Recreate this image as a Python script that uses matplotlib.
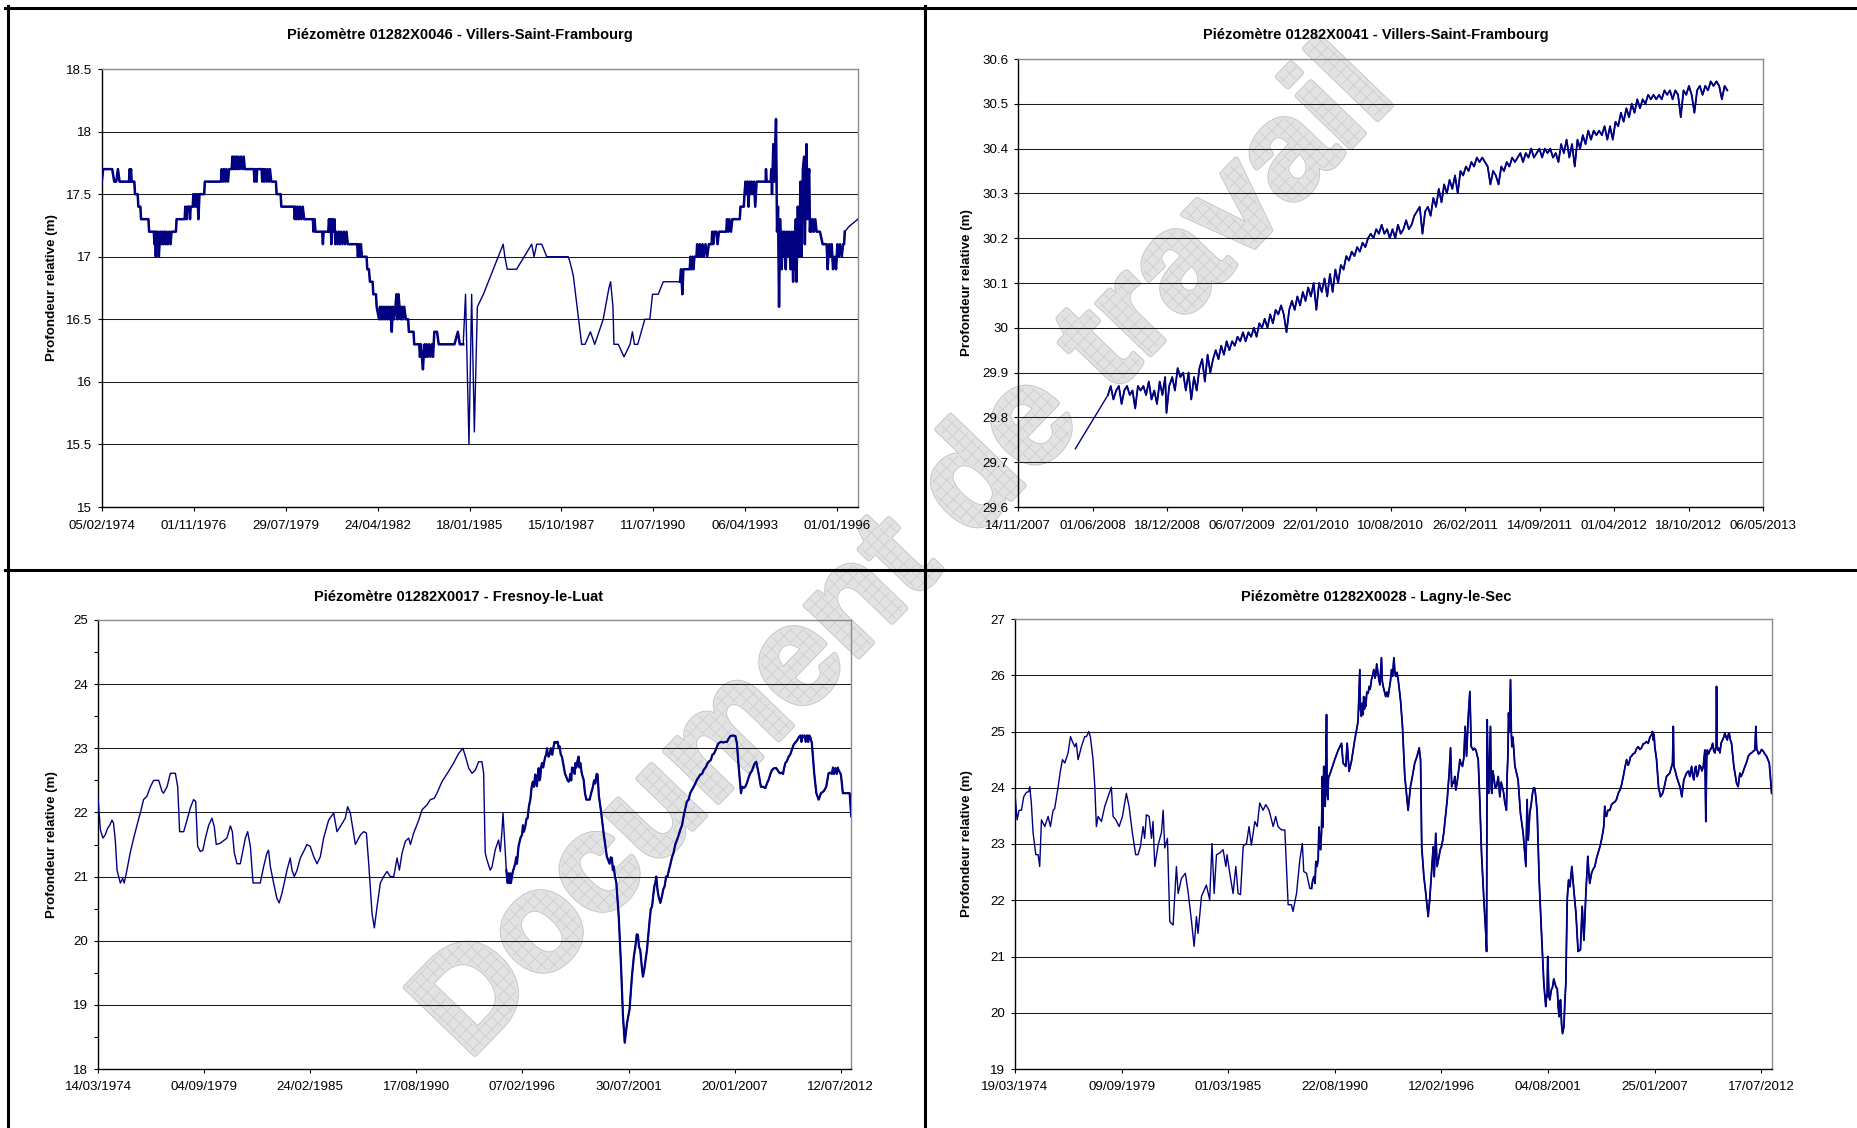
import matplotlib
matplotlib.use('Agg')
import matplotlib.pyplot as plt
import matplotlib.dates as mdates
import numpy as np
from datetime import datetime, timedelta
from matplotlib.lines import Line2D
from matplotlib.patches import PathPatch
from matplotlib.collections import LineCollection
from matplotlib.textpath import TextPath
from matplotlib.font_manager import FontProperties
from matplotlib.transforms import Affine2D, IdentityTransform
from matplotlib.ticker import MultipleLocator, FuncFormatter

plt.rcParams['font.family'] = ['Liberation Sans', 'DejaVu Sans']

# ---- piezometer readings: (decimal year, relative depth in m) ----
tl_points = [
    (1974.09, 17.6), (1974.13, 17.7), (1974.40, 17.7), (1974.46, 17.6), (1974.52, 17.6), (1974.57, 17.7),
    (1974.62, 17.6), (1974.90, 17.6), (1974.92, 17.7), (1974.94, 17.6), (1974.96, 17.7), (1974.98, 17.6),
    (1975.06, 17.6), (1975.08, 17.5), (1975.16, 17.5), (1975.18, 17.4), (1975.24, 17.4), (1975.26, 17.3),
    (1975.48, 17.3), (1975.50, 17.2), (1975.64, 17.2), (1975.66, 17.1), (1975.68, 17.2), (1975.70, 17.0),
    (1975.72, 17.2), (1975.75, 17.1), (1975.77, 17.2), (1975.79, 17.0), (1975.81, 17.1), (1975.84, 17.2),
    (1975.87, 17.1), (1975.90, 17.2), (1975.93, 17.1), (1975.96, 17.2), (1975.99, 17.1), (1976.02, 17.2),
    (1976.06, 17.1), (1976.10, 17.2), (1976.14, 17.1), (1976.17, 17.2), (1976.30, 17.2), (1976.32, 17.3),
    (1976.56, 17.3), (1976.58, 17.4), (1976.62, 17.3), (1976.64, 17.4), (1976.70, 17.4), (1976.72, 17.3),
    (1976.74, 17.4), (1976.80, 17.4), (1976.82, 17.5), (1976.85, 17.4), (1976.88, 17.5), (1976.91, 17.4),
    (1976.94, 17.5), (1976.97, 17.3), (1977.00, 17.5), (1977.14, 17.5), (1977.16, 17.6), (1977.64, 17.6),
    (1977.66, 17.7), (1977.70, 17.6), (1977.73, 17.7), (1977.77, 17.6), (1977.80, 17.7), (1977.85, 17.6),
    (1977.88, 17.7), (1977.96, 17.7), (1977.98, 17.8), (1978.01, 17.7), (1978.04, 17.8), (1978.07, 17.7),
    (1978.10, 17.8), (1978.13, 17.7), (1978.16, 17.8), (1978.20, 17.7), (1978.24, 17.8), (1978.28, 17.7),
    (1978.32, 17.8), (1978.35, 17.7), (1978.62, 17.7), (1978.64, 17.6), (1978.66, 17.7), (1978.70, 17.6),
    (1978.72, 17.7), (1978.85, 17.7), (1978.87, 17.6), (1978.90, 17.7), (1978.93, 17.6), (1978.96, 17.7),
    (1979.00, 17.6), (1979.03, 17.7), (1979.07, 17.6), (1979.10, 17.7), (1979.14, 17.6), (1979.28, 17.6),
    (1979.30, 17.5), (1979.42, 17.5), (1979.44, 17.4), (1979.82, 17.4), (1979.84, 17.3), (1979.87, 17.4),
    (1979.90, 17.3), (1979.93, 17.4), (1979.97, 17.3), (1980.00, 17.4), (1980.04, 17.3), (1980.08, 17.4),
    (1980.12, 17.3), (1980.38, 17.3), (1980.40, 17.2), (1980.43, 17.3), (1980.46, 17.2), (1980.66, 17.2),
    (1980.68, 17.1), (1980.70, 17.2), (1980.84, 17.2), (1980.86, 17.3), (1980.88, 17.2), (1980.91, 17.3),
    (1980.93, 17.1), (1980.96, 17.3), (1980.99, 17.2), (1981.02, 17.3), (1981.05, 17.1), (1981.08, 17.2),
    (1981.12, 17.1), (1981.15, 17.2), (1981.18, 17.1), (1981.22, 17.2), (1981.26, 17.1), (1981.30, 17.2),
    (1981.34, 17.1), (1981.38, 17.2), (1981.42, 17.1), (1981.70, 17.1), (1981.72, 17.0), (1981.75, 17.1),
    (1981.78, 17.0), (1981.81, 17.1), (1981.84, 17.0), (1981.98, 17.0), (1982.00, 16.9), (1982.05, 16.9),
    (1982.08, 16.8), (1982.16, 16.8), (1982.18, 16.7), (1982.26, 16.7), (1982.28, 16.6), (1982.35, 16.5),
    (1982.38, 16.6), (1982.41, 16.5), (1982.44, 16.6), (1982.47, 16.5), (1982.50, 16.6), (1982.53, 16.5),
    (1982.56, 16.6), (1982.60, 16.5), (1982.63, 16.6), (1982.66, 16.5), (1982.70, 16.6), (1982.73, 16.4),
    (1982.76, 16.6), (1982.80, 16.5), (1982.84, 16.6), (1982.87, 16.7), (1982.90, 16.5), (1982.93, 16.7),
    (1982.96, 16.6), (1983.00, 16.5), (1983.03, 16.6), (1983.06, 16.5), (1983.10, 16.6), (1983.15, 16.5),
    (1983.22, 16.5), (1983.24, 16.4), (1983.38, 16.4), (1983.40, 16.3), (1983.55, 16.3), (1983.57, 16.2),
    (1983.60, 16.3), (1983.63, 16.2), (1983.66, 16.1), (1983.68, 16.2), (1983.71, 16.3), (1983.74, 16.2),
    (1983.77, 16.3), (1983.80, 16.2), (1983.84, 16.3), (1983.88, 16.2), (1983.92, 16.3), (1983.96, 16.2),
    (1984.00, 16.4), (1984.08, 16.4), (1984.13, 16.3), (1984.60, 16.3), (1984.70, 16.4), (1984.76, 16.3),
    (1984.86, 16.3), (1984.93, 16.7), (1985.03, 15.5), (1985.11, 16.7), (1985.19, 15.6), (1985.28, 16.6),
    (1985.46, 16.7), (1986.05, 17.1), (1986.10, 17.0), (1986.17, 16.9), (1986.45, 16.9), (1986.90, 17.1),
    (1986.97, 17.0), (1987.05, 17.1), (1987.20, 17.1), (1987.35, 17.0), (1987.99, 17.0), (1988.05, 16.95),
    (1988.14, 16.85), (1988.39, 16.3), (1988.49, 16.3), (1988.65, 16.4), (1988.78, 16.3), (1989.03, 16.5),
    (1989.20, 16.75), (1989.25, 16.8), (1989.32, 16.6), (1989.35, 16.3), (1989.48, 16.3), (1989.65, 16.2),
    (1989.83, 16.3), (1989.90, 16.4), (1989.96, 16.3), (1990.06, 16.3), (1990.27, 16.5), (1990.42, 16.5),
    (1990.50, 16.7), (1990.67, 16.7), (1990.82, 16.8), (1991.32, 16.8), (1991.35, 16.9), (1991.39, 16.7),
    (1991.42, 16.9), (1991.61, 16.9), (1991.63, 17.0), (1991.66, 16.9), (1991.69, 17.0), (1991.72, 16.9),
    (1991.75, 17.0), (1991.81, 17.0), (1991.83, 17.1), (1991.87, 17.0), (1991.91, 17.1), (1991.95, 17.0),
    (1991.99, 17.1), (1992.03, 17.0), (1992.08, 17.1), (1992.13, 17.0), (1992.18, 17.1), (1992.26, 17.1),
    (1992.28, 17.2), (1992.31, 17.1), (1992.34, 17.2), (1992.40, 17.2), (1992.44, 17.1), (1992.48, 17.2),
    (1992.70, 17.2), (1992.72, 17.3), (1992.76, 17.2), (1992.79, 17.3), (1992.84, 17.2), (1992.88, 17.3),
    (1993.10, 17.3), (1993.12, 17.4), (1993.22, 17.4), (1993.24, 17.5), (1993.27, 17.6), (1993.30, 17.5),
    (1993.33, 17.6), (1993.36, 17.4), (1993.39, 17.6), (1993.42, 17.5), (1993.45, 17.6), (1993.48, 17.5),
    (1993.52, 17.6), (1993.56, 17.4), (1993.60, 17.6), (1993.87, 17.6), (1993.88, 17.7), (1993.90, 17.6),
    (1994.02, 17.6), (1994.04, 17.7), (1994.06, 17.5), (1994.10, 17.9), (1994.13, 17.6), (1994.18, 18.1),
    (1994.21, 17.2), (1994.24, 17.4), (1994.27, 16.6), (1994.30, 17.3), (1994.35, 16.9), (1994.38, 17.2),
    (1994.40, 17.0), (1994.43, 17.2), (1994.47, 16.9), (1994.50, 17.2), (1994.54, 17.0), (1994.57, 17.2),
    (1994.61, 16.9), (1994.65, 17.2), (1994.69, 16.8), (1994.72, 17.2), (1994.74, 16.9), (1994.77, 17.3),
    (1994.79, 16.8), (1994.83, 17.4), (1994.87, 17.0), (1994.91, 17.6), (1994.94, 17.0), (1994.98, 17.7),
    (1995.02, 17.8), (1995.04, 17.1), (1995.07, 17.6), (1995.09, 17.9), (1995.12, 17.3), (1995.14, 17.6),
    (1995.17, 17.7), (1995.19, 17.2), (1995.21, 17.3), (1995.24, 17.2), (1995.27, 17.3), (1995.31, 17.2),
    (1995.35, 17.3), (1995.39, 17.2), (1995.49, 17.2), (1995.57, 17.1), (1995.69, 17.1), (1995.72, 16.9),
    (1995.74, 17.0), (1995.77, 17.1), (1995.80, 17.0), (1995.84, 17.1), (1995.88, 16.9), (1995.93, 17.0),
    (1995.97, 16.9), (1996.01, 17.1), (1996.05, 17.0), (1996.09, 17.1), (1996.14, 17.0), (1996.18, 17.1),
    (1996.21, 17.1), (1996.23, 17.2), (1996.35, 17.24), (1996.62, 17.3),
]

tr_points = [
    (2008.29, 29.73), (2008.53, 29.85), (2008.55, 29.87), (2008.57, 29.84), (2008.59, 29.86), (2008.61, 29.87),
    (2008.63, 29.83), (2008.65, 29.86), (2008.67, 29.87), (2008.69, 29.85), (2008.71, 29.86), (2008.73, 29.82),
    (2008.75, 29.87), (2008.77, 29.86), (2008.79, 29.87), (2008.81, 29.85), (2008.83, 29.88), (2008.85, 29.84),
    (2008.87, 29.86), (2008.89, 29.83), (2008.91, 29.88), (2008.93, 29.85), (2008.95, 29.89), (2008.96, 29.81),
    (2008.98, 29.87), (2009.00, 29.89), (2009.02, 29.86), (2009.04, 29.91), (2009.06, 29.89), (2009.08, 29.90),
    (2009.10, 29.86), (2009.12, 29.90), (2009.14, 29.84), (2009.16, 29.89), (2009.18, 29.86), (2009.20, 29.91),
    (2009.22, 29.93), (2009.24, 29.88), (2009.26, 29.94), (2009.28, 29.90), (2009.30, 29.93), (2009.32, 29.95),
    (2009.34, 29.93), (2009.36, 29.96), (2009.38, 29.94), (2009.40, 29.97), (2009.42, 29.95), (2009.44, 29.97),
    (2009.46, 29.96), (2009.48, 29.98), (2009.50, 29.97), (2009.52, 29.99), (2009.54, 29.97), (2009.56, 29.99),
    (2009.58, 29.98), (2009.60, 30.00), (2009.62, 29.98), (2009.64, 30.01), (2009.66, 30.00), (2009.68, 30.02),
    (2009.70, 30.00), (2009.72, 30.03), (2009.74, 30.01), (2009.76, 30.04), (2009.78, 30.03), (2009.80, 30.05),
    (2009.82, 30.03), (2009.84, 29.99), (2009.86, 30.04), (2009.88, 30.06), (2009.90, 30.04), (2009.92, 30.07),
    (2009.94, 30.05), (2009.96, 30.08), (2009.98, 30.06), (2010.00, 30.09), (2010.02, 30.07), (2010.04, 30.10),
    (2010.06, 30.04), (2010.08, 30.10), (2010.10, 30.08), (2010.12, 30.11), (2010.14, 30.07), (2010.16, 30.12),
    (2010.18, 30.08), (2010.20, 30.13), (2010.22, 30.10), (2010.24, 30.14), (2010.26, 30.13), (2010.28, 30.16),
    (2010.30, 30.15), (2010.32, 30.17), (2010.34, 30.16), (2010.36, 30.18), (2010.38, 30.17), (2010.40, 30.19),
    (2010.42, 30.18), (2010.44, 30.20), (2010.46, 30.21), (2010.48, 30.20), (2010.50, 30.22), (2010.52, 30.21),
    (2010.54, 30.23), (2010.56, 30.21), (2010.58, 30.22), (2010.60, 30.20), (2010.62, 30.22), (2010.64, 30.20),
    (2010.66, 30.23), (2010.68, 30.21), (2010.70, 30.22), (2010.72, 30.24), (2010.74, 30.22), (2010.76, 30.23),
    (2010.78, 30.25), (2010.80, 30.26), (2010.82, 30.27), (2010.84, 30.21), (2010.86, 30.26), (2010.88, 30.27),
    (2010.90, 30.25), (2010.92, 30.29), (2010.94, 30.27), (2010.96, 30.31), (2010.98, 30.28), (2011.00, 30.32),
    (2011.02, 30.30), (2011.04, 30.33), (2011.06, 30.31), (2011.08, 30.34), (2011.10, 30.30), (2011.12, 30.35),
    (2011.14, 30.34), (2011.16, 30.36), (2011.18, 30.35), (2011.20, 30.37), (2011.22, 30.36), (2011.24, 30.38),
    (2011.26, 30.37), (2011.28, 30.38), (2011.30, 30.37), (2011.32, 30.36), (2011.34, 30.32), (2011.36, 30.35),
    (2011.38, 30.34), (2011.40, 30.32), (2011.42, 30.36), (2011.44, 30.35), (2011.46, 30.37), (2011.48, 30.36),
    (2011.50, 30.38), (2011.52, 30.37), (2011.54, 30.38), (2011.56, 30.39), (2011.58, 30.37), (2011.60, 30.39),
    (2011.62, 30.38), (2011.64, 30.40), (2011.66, 30.38), (2011.68, 30.39), (2011.70, 30.40), (2011.72, 30.38),
    (2011.74, 30.40), (2011.76, 30.39), (2011.78, 30.40), (2011.80, 30.38), (2011.82, 30.39), (2011.84, 30.37),
    (2011.86, 30.41), (2011.88, 30.39), (2011.90, 30.42), (2011.92, 30.38), (2011.94, 30.41), (2011.96, 30.36),
    (2011.98, 30.42), (2012.00, 30.40), (2012.02, 30.43), (2012.04, 30.41), (2012.06, 30.44), (2012.08, 30.42),
    (2012.10, 30.44), (2012.12, 30.43), (2012.14, 30.44), (2012.16, 30.43), (2012.18, 30.45), (2012.20, 30.42),
    (2012.22, 30.45), (2012.24, 30.42), (2012.26, 30.46), (2012.28, 30.45), (2012.30, 30.48), (2012.32, 30.46),
    (2012.34, 30.49), (2012.36, 30.47), (2012.38, 30.50), (2012.40, 30.48), (2012.42, 30.51), (2012.44, 30.49),
    (2012.46, 30.51), (2012.48, 30.50), (2012.50, 30.52), (2012.52, 30.51), (2012.54, 30.52), (2012.56, 30.51),
    (2012.58, 30.52), (2012.60, 30.51), (2012.62, 30.53), (2012.64, 30.52), (2012.66, 30.53), (2012.68, 30.51),
    (2012.70, 30.53), (2012.72, 30.52), (2012.74, 30.47), (2012.76, 30.53), (2012.78, 30.52), (2012.80, 30.54),
    (2012.82, 30.52), (2012.84, 30.48), (2012.86, 30.53), (2012.88, 30.54), (2012.90, 30.52), (2012.92, 30.54),
    (2012.94, 30.53), (2012.96, 30.55), (2012.98, 30.54), (2013.00, 30.55), (2013.02, 30.54), (2013.04, 30.51),
    (2013.06, 30.54), (2013.08, 30.53),
]

bl_points = [
    (1974.20, 22.22), (1974.32, 21.73), (1974.45, 21.6), (1974.57, 21.65), (1974.69, 21.75), (1974.80, 21.8),
    (1974.92, 21.88), (1975.00, 21.83), (1975.09, 21.57), (1975.18, 21.1), (1975.35, 20.9), (1975.47, 20.97),
    (1975.55, 20.9), (1975.69, 21.1), (1975.86, 21.37), (1976.04, 21.6), (1976.21, 21.8), (1976.38, 21.99),
    (1976.55, 22.2), (1976.72, 22.25), (1976.90, 22.4), (1977.07, 22.5), (1977.33, 22.5), (1977.50, 22.33),
    (1977.58, 22.3), (1977.76, 22.4), (1977.93, 22.61), (1978.19, 22.61), (1978.31, 22.4), (1978.41, 21.7),
    (1978.62, 21.7), (1978.79, 21.88), (1978.96, 22.07), (1979.13, 22.2), (1979.24, 22.17), (1979.34, 21.47),
    (1979.48, 21.39), (1979.61, 21.41), (1979.74, 21.6), (1979.91, 21.8), (1980.08, 21.91), (1980.20, 21.78),
    (1980.30, 21.5), (1980.51, 21.52), (1980.85, 21.6), (1981.03, 21.79), (1981.13, 21.7), (1981.23, 21.37),
    (1981.37, 21.2), (1981.54, 21.2), (1981.68, 21.42), (1981.80, 21.6), (1981.92, 21.7), (1982.06, 21.47),
    (1982.20, 20.9), (1982.57, 20.9), (1982.75, 21.16), (1982.92, 21.37), (1983.00, 21.41), (1983.09, 21.16),
    (1983.26, 20.9), (1983.43, 20.66), (1983.55, 20.59), (1983.69, 20.74), (1983.81, 20.9), (1983.95, 21.1),
    (1984.12, 21.29), (1984.21, 21.1), (1984.33, 21.0), (1984.47, 21.1), (1984.64, 21.29), (1984.81, 21.39),
    (1984.98, 21.5), (1985.15, 21.47), (1985.33, 21.31), (1985.50, 21.2), (1985.67, 21.31), (1985.84, 21.6),
    (1986.10, 21.88), (1986.36, 21.99), (1986.53, 21.7), (1986.70, 21.78), (1986.96, 21.91), (1987.08, 22.09),
    (1987.22, 21.99), (1987.48, 21.5), (1987.74, 21.65), (1987.91, 21.7), (1988.05, 21.68), (1988.17, 21.2),
    (1988.34, 20.43), (1988.46, 20.2), (1988.60, 20.53), (1988.77, 20.9), (1988.94, 21.0), (1989.11, 21.08),
    (1989.28, 21.0), (1989.46, 21.0), (1989.63, 21.29), (1989.75, 21.1), (1989.89, 21.37), (1990.06, 21.55),
    (1990.23, 21.6), (1990.32, 21.5), (1990.49, 21.68), (1990.75, 21.88), (1990.92, 22.04), (1991.18, 22.12),
    (1991.35, 22.2), (1991.55, 22.22), (1991.69, 22.3), (1991.95, 22.48), (1992.29, 22.64), (1992.55, 22.77),
    (1992.81, 22.92), (1993.03, 23.0), (1993.21, 22.82), (1993.33, 22.69), (1993.50, 22.61), (1993.67, 22.66),
    (1993.84, 22.79), (1994.01, 22.79), (1994.10, 22.61), (1994.18, 21.37), (1994.27, 21.26), (1994.44, 21.1),
    (1994.53, 21.15), (1994.70, 21.42), (1994.87, 21.57), (1994.96, 21.39), (1995.04, 21.68), (1995.10, 21.99),
    (1995.16, 21.68), (1995.27, 21.1), (1995.34, 20.9), (1995.39, 21.05), (1995.44, 20.9), (1995.48, 21.05),
    (1995.51, 20.9), (1995.56, 21.0), (1995.61, 21.08), (1995.73, 21.2), (1995.78, 21.3), (1995.82, 21.2),
    (1995.90, 21.47), (1996.00, 21.6), (1996.08, 21.65), (1996.13, 21.8), (1996.18, 21.7), (1996.25, 21.78),
    (1996.31, 21.9), (1996.37, 21.91), (1996.44, 22.1), (1996.51, 22.2), (1996.58, 22.4), (1996.64, 22.48),
    (1996.70, 22.4), (1996.76, 22.59), (1996.80, 22.5), (1996.85, 22.41), (1996.90, 22.6), (1996.94, 22.69),
    (1996.98, 22.5), (1997.02, 22.54), (1997.06, 22.7), (1997.11, 22.77), (1997.17, 22.7), (1997.23, 22.8),
    (1997.28, 22.87), (1997.33, 22.9), (1997.37, 23.0), (1997.41, 22.9), (1997.45, 22.87), (1997.50, 22.9),
    (1997.57, 23.0), (1997.64, 22.9), (1997.71, 23.03), (1997.76, 23.1), (1997.80, 23.08), (1997.86, 23.1),
    (1997.92, 23.1), (1997.97, 23.0), (1998.02, 23.03), (1998.08, 22.9), (1998.14, 22.87), (1998.18, 22.8),
    (1998.23, 22.72), (1998.30, 22.6), (1998.36, 22.56), (1998.43, 22.5), (1998.49, 22.48), (1998.53, 22.5),
    (1998.57, 22.6), (1998.62, 22.5), (1998.66, 22.7), (1998.74, 22.69), (1998.80, 22.6), (1998.84, 22.77),
    (1998.88, 22.7), (1998.94, 22.8), (1999.00, 22.87), (1999.05, 22.7), (1999.09, 22.77), (1999.17, 22.6),
    (1999.26, 22.51), (1999.33, 22.3), (1999.40, 22.2), (1999.57, 22.2), (1999.65, 22.3), (1999.74, 22.4),
    (1999.80, 22.5), (1999.86, 22.45), (1999.93, 22.6), (1999.98, 22.59), (2000.05, 22.25), (2000.15, 22.04),
    (2000.29, 21.68), (2000.46, 21.31), (2000.60, 21.2), (2000.66, 21.3), (2000.72, 21.29), (2000.77, 21.1),
    (2000.81, 21.16), (2000.88, 21.0), (2000.95, 20.9), (2001.07, 20.38), (2001.19, 19.6), (2001.29, 18.82),
    (2001.38, 18.41), (2001.50, 18.72), (2001.63, 18.93), (2001.75, 19.44), (2001.85, 19.75), (2001.93, 19.91),
    (2002.00, 20.1), (2002.06, 20.09), (2002.12, 19.9), (2002.18, 19.86), (2002.26, 19.6), (2002.32, 19.44),
    (2002.39, 19.55), (2002.46, 19.7), (2002.53, 19.86), (2002.60, 20.1), (2002.67, 20.33), (2002.73, 20.5),
    (2002.79, 20.53), (2002.85, 20.7), (2002.91, 20.85), (2002.96, 20.9), (2003.01, 21.0), (2003.07, 20.8),
    (2003.13, 20.69), (2003.22, 20.59), (2003.30, 20.69), (2003.37, 20.8), (2003.44, 20.85), (2003.52, 21.0),
    (2003.59, 21.0), (2003.66, 21.1), (2003.73, 21.18), (2003.82, 21.3), (2003.90, 21.37), (2003.99, 21.5),
    (2004.08, 21.57), (2004.17, 21.65), (2004.25, 21.73), (2004.34, 21.8), (2004.42, 21.94), (2004.50, 22.05),
    (2004.59, 22.17), (2004.68, 22.2), (2004.76, 22.3), (2004.85, 22.35), (2004.94, 22.4), (2005.02, 22.45),
    (2005.11, 22.51), (2005.20, 22.55), (2005.28, 22.59), (2005.37, 22.6), (2005.45, 22.66), (2005.55, 22.7),
    (2005.66, 22.77), (2005.75, 22.8), (2005.83, 22.82), (2005.90, 22.9), (2005.97, 22.91), (2006.04, 22.95),
    (2006.11, 23.0), (2006.17, 23.05), (2006.23, 23.08), (2006.35, 23.1), (2006.48, 23.09), (2006.57, 23.1),
    (2006.66, 23.1), (2006.74, 23.15), (2006.83, 23.19), (2006.96, 23.2), (2007.09, 23.19), (2007.17, 23.08),
    (2007.26, 22.72), (2007.38, 22.3), (2007.45, 22.4), (2007.52, 22.38), (2007.60, 22.4), (2007.69, 22.46),
    (2007.78, 22.55), (2007.86, 22.61), (2007.95, 22.65), (2008.03, 22.72), (2008.10, 22.77), (2008.17, 22.79),
    (2008.23, 22.7), (2008.29, 22.61), (2008.35, 22.5), (2008.41, 22.4), (2008.52, 22.4), (2008.64, 22.38),
    (2008.72, 22.45), (2008.81, 22.51), (2008.90, 22.6), (2008.98, 22.66), (2009.09, 22.69), (2009.20, 22.69),
    (2009.29, 22.65), (2009.38, 22.61), (2009.47, 22.62), (2009.55, 22.6), (2009.61, 22.7), (2009.67, 22.77),
    (2009.75, 22.8), (2009.84, 22.87), (2009.92, 22.9), (2010.01, 22.98), (2010.09, 23.05), (2010.18, 23.09),
    (2010.27, 23.12), (2010.36, 23.17), (2010.45, 23.2), (2010.50, 23.1), (2010.55, 23.2), (2010.61, 23.17),
    (2010.66, 23.2), (2010.72, 23.1), (2010.79, 23.2), (2010.85, 23.1), (2010.90, 23.2), (2010.96, 23.17),
    (2011.04, 23.08), (2011.16, 22.61), (2011.27, 22.3), (2011.39, 22.2), (2011.51, 22.3), (2011.65, 22.33),
    (2011.78, 22.4), (2011.90, 22.61), (2011.98, 22.62), (2012.07, 22.6), (2012.13, 22.7), (2012.18, 22.6),
    (2012.25, 22.69), (2012.32, 22.6), (2012.37, 22.7), (2012.42, 22.66), (2012.54, 22.59), (2012.64, 22.3),
    (2012.85, 22.3), (2012.99, 22.3), (2013.07, 21.94),
]

br_points = [
    (1974.21, 23.9), (1974.32, 23.43), (1974.42, 23.6), (1974.54, 23.6), (1974.66, 23.84), (1974.80, 23.92),
    (1974.92, 23.93), (1974.97, 24.02), (1975.05, 23.73), (1975.14, 23.2), (1975.28, 22.81), (1975.40, 22.81),
    (1975.48, 22.6), (1975.57, 23.43), (1975.74, 23.31), (1975.91, 23.49), (1976.03, 23.31), (1976.17, 23.6),
    (1976.25, 23.63), (1976.42, 24.0), (1976.54, 24.29), (1976.65, 24.5), (1976.77, 24.44), (1976.94, 24.62),
    (1977.06, 24.91), (1977.16, 24.82), (1977.28, 24.73), (1977.36, 24.79), (1977.45, 24.5), (1977.62, 24.73),
    (1977.79, 24.91), (1977.88, 24.91), (1978.00, 25.0), (1978.08, 24.91), (1978.22, 24.5), (1978.31, 24.02),
    (1978.39, 23.31), (1978.48, 23.49), (1978.65, 23.4), (1978.82, 23.67), (1978.99, 23.84), (1979.16, 24.01),
    (1979.25, 23.49), (1979.39, 23.43), (1979.56, 23.31), (1979.73, 23.49), (1979.93, 23.9), (1980.07, 23.67),
    (1980.24, 23.2), (1980.41, 22.81), (1980.53, 22.81), (1980.65, 22.95), (1980.79, 23.31), (1980.87, 23.1),
    (1980.96, 23.52), (1981.10, 23.49), (1981.22, 23.1), (1981.30, 23.4), (1981.39, 22.6), (1981.56, 22.98),
    (1981.73, 23.2), (1981.82, 23.6), (1981.90, 22.93), (1982.04, 23.1), (1982.16, 21.62), (1982.33, 21.56),
    (1982.50, 22.6), (1982.59, 22.12), (1982.76, 22.39), (1982.96, 22.48), (1983.10, 22.15), (1983.27, 21.65),
    (1983.41, 21.18), (1983.53, 21.71), (1983.61, 21.41), (1983.79, 22.07), (1984.04, 22.27), (1984.21, 22.01),
    (1984.33, 23.01), (1984.44, 22.12), (1984.56, 22.81), (1984.73, 22.84), (1984.90, 22.9), (1985.04, 22.6),
    (1985.10, 22.81), (1985.24, 22.48), (1985.41, 22.12), (1985.55, 22.6), (1985.67, 22.12), (1985.79, 22.1),
    (1985.93, 22.96), (1986.10, 23.01), (1986.23, 23.31), (1986.35, 22.98), (1986.53, 23.4), (1986.65, 23.31),
    (1986.78, 23.73), (1986.95, 23.6), (1987.09, 23.7), (1987.26, 23.6), (1987.47, 23.31), (1987.60, 23.49),
    (1987.72, 23.31), (1987.90, 23.25), (1988.07, 23.25), (1988.24, 21.92), (1988.41, 21.92), (1988.49, 21.8),
    (1988.67, 22.12), (1988.84, 22.72), (1988.97, 23.01), (1989.04, 22.51), (1989.18, 22.48), (1989.35, 22.21),
    (1989.44, 22.21), (1989.50, 22.35), (1989.56, 22.42), (1989.62, 22.3), (1989.66, 22.69), (1989.72, 22.6),
    (1989.78, 22.72), (1989.82, 23.3), (1989.86, 23.13), (1989.90, 22.9), (1989.95, 23.19), (1990.00, 24.2),
    (1990.02, 23.3), (1990.04, 23.73), (1990.07, 24.38), (1990.10, 23.8), (1990.14, 23.67), (1990.17, 24.4),
    (1990.21, 25.3), (1990.24, 23.9), (1990.28, 23.79), (1990.31, 24.2), (1990.34, 24.2), (1990.46, 24.32),
    (1990.63, 24.5), (1990.81, 24.67), (1990.98, 24.79), (1991.06, 24.44), (1991.20, 24.38), (1991.27, 24.79),
    (1991.37, 24.29), (1991.49, 24.47), (1991.66, 24.85), (1991.83, 25.18), (1991.92, 26.1), (1991.95, 25.4),
    (1992.00, 25.27), (1992.05, 25.5), (1992.09, 25.3), (1992.12, 25.62), (1992.16, 25.4), (1992.20, 25.6),
    (1992.23, 25.45), (1992.28, 25.7), (1992.35, 25.68), (1992.40, 25.8), (1992.45, 25.75), (1992.52, 25.92),
    (1992.58, 26.0), (1992.64, 26.1), (1992.70, 25.95), (1992.74, 26.01), (1992.79, 26.2), (1992.83, 26.1),
    (1992.89, 25.95), (1992.95, 25.83), (1993.03, 26.31), (1993.07, 25.9), (1993.12, 25.8), (1993.19, 25.7),
    (1993.25, 25.62), (1993.31, 25.7), (1993.37, 25.62), (1993.43, 25.75), (1993.49, 25.89), (1993.55, 26.1),
    (1993.60, 25.98), (1993.67, 26.31), (1993.72, 26.05), (1993.77, 25.98), (1993.83, 26.05), (1993.89, 25.92),
    (1994.01, 25.56), (1994.11, 25.09), (1994.23, 24.2), (1994.40, 23.6), (1994.52, 24.02), (1994.62, 24.2),
    (1994.74, 24.44), (1994.86, 24.56), (1994.97, 24.71), (1995.00, 24.6), (1995.04, 24.5), (1995.10, 22.95),
    (1995.21, 22.42), (1995.31, 22.12), (1995.43, 21.71), (1995.51, 22.01), (1995.60, 22.48), (1995.69, 22.95),
    (1995.74, 22.42), (1995.82, 23.19), (1995.89, 22.6), (1995.99, 22.78), (1996.05, 22.9), (1996.11, 22.95),
    (1996.17, 23.05), (1996.23, 23.19), (1996.34, 23.55), (1996.41, 23.79), (1996.51, 24.26), (1996.58, 24.71),
    (1996.64, 24.02), (1996.70, 24.1), (1996.75, 24.08), (1996.80, 24.2), (1996.85, 23.96), (1996.92, 24.1),
    (1996.97, 24.23), (1997.06, 24.5), (1997.12, 24.42), (1997.19, 24.38), (1997.26, 24.53), (1997.33, 25.09),
    (1997.40, 24.56), (1997.48, 25.21), (1997.57, 25.71), (1997.64, 24.73), (1997.70, 24.7), (1997.74, 24.67),
    (1997.80, 24.7), (1997.88, 24.67), (1998.00, 24.5), (1998.08, 23.79), (1998.17, 22.84), (1998.29, 22.01),
    (1998.39, 21.41), (1998.43, 21.09), (1998.46, 25.21), (1998.50, 24.2), (1998.53, 23.9), (1998.58, 24.5),
    (1998.63, 25.09), (1998.67, 24.0), (1998.70, 23.9), (1998.75, 24.3), (1998.80, 24.2), (1998.87, 24.0),
    (1998.94, 24.02), (1999.03, 24.2), (1999.11, 23.84), (1999.18, 24.1), (1999.25, 24.0), (1999.31, 23.9),
    (1999.37, 23.73), (1999.45, 23.6), (1999.49, 24.26), (1999.53, 24.6), (1999.56, 25.33), (1999.60, 25.0),
    (1999.66, 25.92), (1999.70, 25.0), (1999.73, 24.73), (1999.78, 24.9), (1999.83, 24.67), (1999.88, 24.4),
    (1999.93, 24.32), (2000.05, 24.14), (2000.17, 23.55), (2000.31, 23.19), (2000.45, 22.6), (2000.51, 23.79),
    (2000.57, 23.07), (2000.65, 23.55), (2000.72, 23.7), (2000.79, 23.9), (2000.85, 24.0), (2000.91, 23.99),
    (2000.97, 23.8), (2001.03, 23.55), (2001.13, 22.36), (2001.25, 21.41), (2001.37, 20.52), (2001.47, 20.11),
    (2001.51, 20.3), (2001.54, 20.29), (2001.57, 21.0), (2001.59, 20.8), (2001.63, 20.3), (2001.68, 20.23),
    (2001.75, 20.4), (2001.82, 20.46), (2001.88, 20.6), (2001.94, 20.52), (2002.00, 20.45), (2002.06, 20.43),
    (2002.11, 20.1), (2002.16, 19.93), (2002.20, 20.2), (2002.23, 20.23), (2002.28, 19.8), (2002.33, 19.63),
    (2002.40, 19.75), (2002.45, 20.2), (2002.50, 20.52), (2002.57, 22.01), (2002.64, 22.36), (2002.71, 22.24),
    (2002.81, 22.6), (2002.91, 22.18), (2003.02, 21.77), (2003.13, 21.09), (2003.25, 21.12), (2003.34, 21.89),
    (2003.43, 21.29), (2003.53, 22.12), (2003.63, 22.78), (2003.68, 22.5), (2003.73, 22.3), (2003.82, 22.48),
    (2003.90, 22.55), (2003.99, 22.6), (2004.08, 22.75), (2004.16, 22.84), (2004.25, 22.95), (2004.33, 23.07),
    (2004.40, 23.2), (2004.45, 23.31), (2004.50, 23.67), (2004.55, 23.5), (2004.59, 23.49), (2004.66, 23.6),
    (2004.76, 23.6), (2004.85, 23.7), (2004.93, 23.73), (2005.02, 23.75), (2005.10, 23.79), (2005.19, 23.9),
    (2005.28, 23.96), (2005.36, 24.05), (2005.45, 24.2), (2005.53, 24.35), (2005.62, 24.5), (2005.70, 24.4),
    (2005.75, 24.44), (2005.82, 24.55), (2005.87, 24.56), (2005.95, 24.6), (2006.05, 24.62), (2006.14, 24.7),
    (2006.22, 24.73), (2006.30, 24.68), (2006.39, 24.71), (2006.47, 24.78), (2006.56, 24.79), (2006.64, 24.82),
    (2006.73, 24.79), (2006.82, 24.9), (2006.90, 24.94), (2006.95, 25.0), (2006.99, 24.85), (2007.03, 24.95),
    (2007.07, 24.73), (2007.16, 24.5), (2007.26, 24.02), (2007.36, 23.84), (2007.47, 23.9), (2007.54, 23.99),
    (2007.67, 24.2), (2007.84, 24.26), (2007.98, 24.44), (2008.02, 25.09), (2008.05, 24.38), (2008.12, 24.3),
    (2008.19, 24.2), (2008.28, 24.1), (2008.36, 24.02), (2008.46, 23.84), (2008.56, 24.14), (2008.70, 24.26),
    (2008.80, 24.3), (2008.87, 24.2), (2008.96, 24.38), (2009.02, 24.2), (2009.08, 24.14), (2009.13, 24.35),
    (2009.18, 24.38), (2009.24, 24.2), (2009.30, 24.26), (2009.36, 24.4), (2009.42, 24.38), (2009.49, 24.3),
    (2009.56, 24.38), (2009.64, 24.67), (2009.69, 23.4), (2009.73, 24.5), (2009.76, 24.67), (2009.83, 24.6),
    (2009.90, 24.67), (2009.97, 24.7), (2010.04, 24.79), (2010.10, 24.65), (2010.16, 24.62), (2010.22, 24.75),
    (2010.24, 25.8), (2010.27, 24.75), (2010.31, 24.67), (2010.36, 24.7), (2010.41, 24.62), (2010.48, 24.8),
    (2010.55, 24.85), (2010.61, 24.9), (2010.67, 24.97), (2010.73, 24.9), (2010.79, 24.85), (2010.85, 24.95),
    (2010.89, 24.97), (2010.95, 24.85), (2011.01, 24.79), (2011.13, 24.38), (2011.27, 24.08), (2011.35, 24.02),
    (2011.44, 24.26), (2011.50, 24.2), (2011.58, 24.26), (2011.70, 24.38), (2011.78, 24.45), (2011.87, 24.56),
    (2011.95, 24.6), (2012.04, 24.62), (2012.13, 24.65), (2012.21, 24.67), (2012.26, 25.09), (2012.30, 24.7),
    (2012.33, 24.67), (2012.40, 24.6), (2012.47, 24.62), (2012.55, 24.68), (2012.64, 24.65), (2012.72, 24.6),
    (2012.81, 24.56), (2012.88, 24.5), (2012.95, 24.44), (2013.07, 23.9),
]

titles = ['Piézomètre 01282X0046 - Villers-Saint-Frambourg',
          'Piézomètre 01282X0041 - Villers-Saint-Frambourg',
          'Piézomètre 01282X0017 - Fresnoy-le-Luat',
          'Piézomètre 01282X0028 - Lagny-le-Sec']
first_ticks = ['1974-02-05', '2007-11-14', '1974-03-14', '1974-03-19']
tick_days = [1000, 200, 2000, 2000]
tick_counts = [9, 11, 8, 8]
x_ends = ['1996-08-16', '2013-05-06', '2013-01-22', '2013-02-02']
y_ranges = [(15, 18.5), (29.6, 30.6), (18, 25), (19, 27)]
y_steps = [0.5, 0.1, 1, 1]
# periods with frequent (daily) readings, which print as a heavier trace
dense_periods = [[(1974.09, 1984.9), (1991.3, 1996.25)], [(2008.53, 2013.1)],
                 [(1995.25, 2013.1)], [(1989.4, 2013.1)]]
dense_widths = [1.8, 1.3, 1.6, 1.3]

W, H = 1858, 1128
fig = plt.figure(figsize=(W / 100, H / 100), dpi=100)

# plot-area boxes in pixels: left, top, right, bottom
boxes = [(102, 69, 858, 507), (1018, 59, 1763, 507), (98, 620, 851, 1069), (1015, 619, 1772, 1069)]
title_xy = [(460, 35), (1376, 35), (459, 597), (1376, 597)]
ylabel_x = [52, 967, 52, 967]


def year_to_num(y):
    yi = int(y)
    return mdates.date2num(datetime(yi, 1, 1) + timedelta(days=(y - yi) * 365.25))


def fmt_depth(v, pos):
    return ('%.2f' % v).rstrip('0').rstrip('.')


series = [tl_points, tr_points, bl_points, br_points]
for i, pts in enumerate(series):
    l, t, r, b = boxes[i]
    ax = fig.add_axes([l / W, 1 - b / H, (r - l) / W, (b - t) / H])
    ax.set_facecolor('none')
    xs = [year_to_num(p[0]) for p in pts]
    ys = [p[1] for p in pts]
    ax.plot(xs, ys, color='#000080', lw=1.0, zorder=3)
    for a, z in dense_periods[i]:
        sub = [p for p in pts if a <= p[0] <= z]
        ax.plot([year_to_num(p[0]) for p in sub], [p[1] for p in sub],
                color='#000080', lw=dense_widths[i], zorder=3)

    start = datetime.strptime(first_ticks[i], '%Y-%m-%d')
    ticks = [mdates.date2num(start + timedelta(days=tick_days[i] * k)) for k in range(tick_counts[i])]
    ax.set_xticks(ticks)
    ax.xaxis.set_major_formatter(mdates.DateFormatter('%d/%m/%Y'))
    ax.set_xlim(mdates.date2num(start), mdates.date2num(datetime.strptime(x_ends[i], '%Y-%m-%d')))

    y0, y1 = y_ranges[i]
    ax.set_ylim(y0, y1)
    ax.yaxis.set_major_locator(MultipleLocator(y_steps[i]))
    ax.yaxis.set_major_formatter(FuncFormatter(fmt_depth))
    if i == 2:
        ax.yaxis.set_minor_locator(MultipleLocator(0.5))
        ax.tick_params(axis='y', which='minor', length=3, width=0.8, direction='out')
    ax.grid(axis='y', color='#1a1a1a', lw=0.75)
    ax.set_axisbelow(True)

    ax.tick_params(axis='both', which='major', labelsize=9.6, length=3, width=0.8, direction='out', color='black')
    ax.tick_params(axis='x', pad=6)
    ax.tick_params(axis='y', pad=4)
    for side in ['left', 'bottom']:
        ax.spines[side].set_color('black')
        ax.spines[side].set_linewidth(1.0)
    for side in ['top', 'right']:
        ax.spines[side].set_color('#8c8c8c')
        ax.spines[side].set_linewidth(1.0)

    tx, ty = title_xy[i]
    fig.text(tx / W, 1 - ty / H, titles[i], ha='center', va='center', fontsize=10.5, fontweight='bold')
    fig.text(ylabel_x[i] / W, 1 - (t + b) / 2 / H, 'Profondeur relative (m)', rotation=90,
             ha='center', va='center', fontsize=9.6, fontweight='bold')

# watermark across the page
wm_font = FontProperties(family='Liberation Sans', weight='bold')
wm_path = TextPath((0, 0), 'Document de travail', size=140, prop=wm_font)
ext = wm_path.get_extents()
cx, cy = 897, H - 545
wm_tr = Affine2D().translate(-(ext.x0 + ext.x1) / 2, -(ext.y0 + ext.y1) / 2).rotate_deg(46).translate(cx, cy)
wm_shape = wm_tr.transform_path(wm_path)
# dark rim, then a light band drawn over it so the rim stays thin
rim = PathPatch(wm_shape, facecolor='#e3e3e3', edgecolor='#c6c6c6', lw=4.0, joinstyle='round',
                transform=IdentityTransform(), zorder=-3)
fig.add_artist(rim)
wm = PathPatch(wm_shape, facecolor='#e3e3e3', edgecolor='#e3e3e3', lw=2.6, joinstyle='round',
               transform=IdentityTransform(), zorder=-2)
fig.add_artist(wm)

ang = np.deg2rad(46)
u = np.array([np.cos(ang), np.sin(ang)])
v = np.array([-np.sin(ang), np.cos(ang)])
c = np.array([cx, cy])
segs = []
for k in range(-100, 101):
    off = k * 9.0
    segs.append([c + v * off - u * 1000, c + v * off + u * 1000])
    segs.append([c + u * off - v * 1000, c + u * off + v * 1000])
grid = LineCollection(segs, colors='#cdcdcd', linewidths=0.6, transform=IdentityTransform(), zorder=-1)
grid.set_clip_path(wm)
fig.add_artist(grid)

# page frame between the four charts
frame = [((5, 7.5), (W, 7.5)), ((7.5, 6), (7.5, H)), ((925, 6), (925, H)), ((5, 570), (W, 570))]
for (x0, y0), (x1, y1) in frame:
    fig.add_artist(Line2D([x0, x1], [H - y0, H - y1], color='black', lw=2.2,
                          transform=IdentityTransform(), zorder=5))

fig.savefig('out.png', dpi=100)
